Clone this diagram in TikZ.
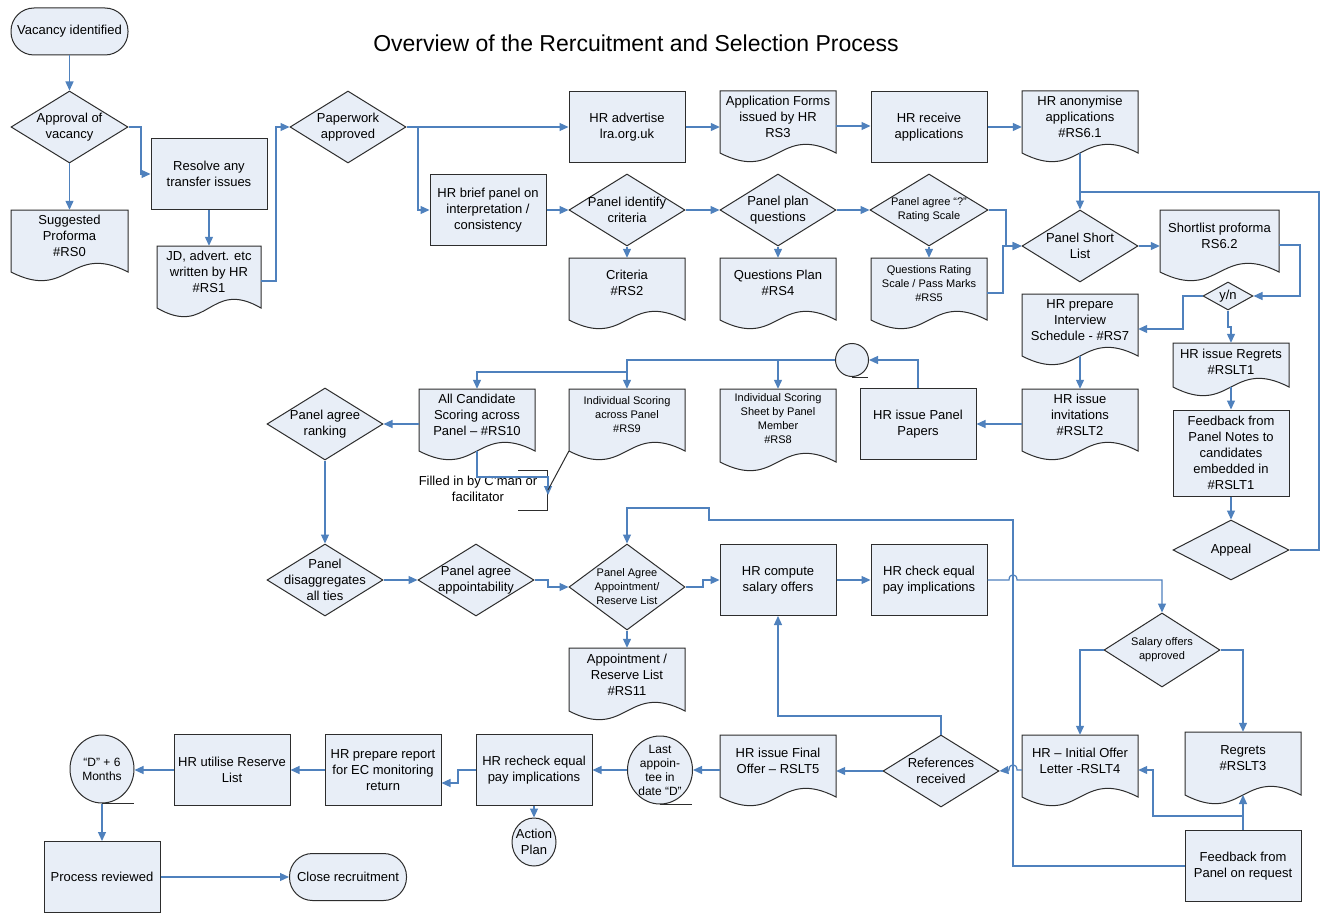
\documentclass[tikz,border=0pt]{standalone}
\usepackage{fontspec}
\setmainfont{Liberation Sans}
\usetikzlibrary{shapes.geometric,arrows.meta}
\definecolor{fillc}{RGB}{232,238,247}
\definecolor{linec}{RGB}{79,129,189}
\definecolor{bordc}{RGB}{45,45,45}
\newcommand\smf{\fontsize{11}{14}\selectfont}
\newcommand\mdf{\fontsize{12}{14}\selectfont}
\newcommand\DocN[8][]{%
  \pgfmathsetmacro\DcXa{#3}%
  \pgfmathsetmacro\DcXb{#3+#5}%
  \pgfmathsetmacro\DcXm{#3+#5/2}%
  \pgfmathsetmacro\DcYa{#4}%
  \pgfmathsetmacro\DcYb{#4+#6}%
  \pgfmathsetmacro\DcYu{#4+#6-30}%
  \pgfmathsetmacro\DcYd{#4+#6+30}%
  \pgfmathsetmacro\DcYc{#4+#6/2+4}%
  \pgfmathsetmacro\DcH{#6+8}%
  \filldraw[shp] (\DcXa,\DcYa) -- (\DcXb,\DcYa) -- (\DcXb,\DcYb) .. controls (\DcXm,\DcYu) and (\DcXm,\DcYd) .. (\DcXa,\DcYb) -- cycle;
  \node[inner sep=0pt, minimum width=#5, minimum height=\DcH] (#2) at (\DcXm,\DcYc) {};
  \coordinate (#2-b) at (\DcXm,\DcYb);
  \node[txt,#1] (#2-t) at (\DcXm,#7) {#8};
}
\newcommand\DiaN[7][]{%
  \node[dia, minimum width=#5, minimum height=#6] (#2) at (#3,#4) {};
  \node[txt,#1] (#2-t) at (#3,#4) {#7};
}
\begin{document}
\begin{tikzpicture}[x=1pt,y=-1pt,
  shp/.style={draw=bordc, fill=fillc, line width=1pt},
  box/.style={shp, rectangle, minimum width=116pt, minimum height=71pt, inner sep=2pt, align=center, font=\fontsize{13}{16}\selectfont},
  dia/.style={shp, diamond, inner sep=0pt},
  ell/.style={shp, ellipse, inner sep=0pt},
  term/.style={shp, rectangle, rounded corners=23pt, minimum width=117pt, minimum height=47pt, align=center, font=\fontsize{13}{16}\selectfont},
  txt/.style={align=center, inner sep=0pt, font=\fontsize{13}{16}\selectfont},
  ln/.style={draw=linec, line width=1.2pt},
  arr/.style={ln, -{Triangle[length=9pt,width=8pt]}},
  tail/.style={draw=bordc, line width=1pt}]
\useasboundingbox (0,0) rectangle (1328,915);
\fill[white] (0,0) rectangle (1328,915);

\node[font=\fontsize{23}{27}\selectfont] (title) at (636,43) {Overview of the Rercuitment and Selection Process};

% ---------- nodes ----------
\node[term] (vac) at (69.5,31.5) {Vacancy identified};
\DiaN{appr}{69.5}{127}{117}{72}{Approval of\\vacancy}
\DocN{rs0}{11}{210}{117}{62}{236}{Suggested\\Proforma\\\#RS0}
\node[box] (resolve) at (209,174) {Resolve any\\transfer issues};
\DocN{rs1}{157}{246}{104}{62}{272}{JD, advert. etc\\written by HR\\\#RS1}
\DiaN{paper}{348}{127}{116}{72}{Paperwork\\approved}
\node[box] (adv) at (627,127) {HR advertise\\lra.org.uk};
\DocN{rs3}{720}{91}{116}{62}{117}{Application Forms\\issued by HR\\RS3}
\node[box] (recv) at (929,127) {HR receive\\applications};
\DocN{rs61}{1022}{91}{116}{62}{117}{HR anonymise\\applications\\\#RS6.1}
\node[box] (brief) at (488,210) {HR brief panel on\\interpretation /\\consistency};
\DiaN{ident}{627}{210}{116}{72}{Panel identify\\criteria}
\DiaN{plan}{778}{210}{116}{72}{Panel plan\\questions}
\DiaN[font=\smf]{agree}{929}{210}{118}{72}{Panel agree “?”\\Rating Scale}
\DocN{rs2}{569}{258}{116}{62}{283}{Criteria\\\#RS2}
\DocN{rs4}{720}{258}{116}{62}{283}{Questions Plan\\\#RS4}
\DocN[font=\smf]{rs5}{871}{258}{116}{62}{284}{Questions Rating\\Scale / Pass Marks\\\#RS5}
\DiaN{sl}{1080}{246}{116}{72}{Panel Short\\List}
\DocN{rs62}{1160}{210}{119}{62}{236}{Shortlist proforma\\RS6.2}
\DiaN{yn}{1228}{296}{50}{28}{y/n}
\DocN{rs7}{1022}{294}{116}{62}{320}{HR prepare\\Interview\\Schedule - \#RS7}
\DocN{rslt1}{1173}{343}{116}{44}{362}{HR issue Regrets\\\#RSLT1}
\DocN{rslt2}{1022}{389}{116}{62}{415}{HR issue\\invitations\\\#RSLT2}
\node[box, minimum height=86pt] (fb1) at (1231,453) {Feedback from\\Panel Notes to\\candidates\\embedded in\\\#RSLT1};
\DiaN{appeal}{1231}{550}{116}{60}{Appeal}
\node[ell, minimum width=33pt, minimum height=33pt] (circ) at (852,360) {};
\node[box] (papers) at (918,424) {HR issue Panel\\Papers};
\DocN[font=\smf]{rs8}{720}{389}{116}{73}{419}{Individual Scoring\\Sheet by Panel\\Member\\\#RS8}
\DocN[font=\smf]{rs9}{569}{389}{116}{62}{415}{Individual Scoring\\across Panel\\\#RS9}
\DocN{rs10}{419}{389}{116}{62}{415}{All Candidate\\Scoring across\\Panel – \#RS10}
\DiaN{rank}{325}{424}{116}{72}{Panel agree\\ranking}
\DiaN{disag}{325}{580}{116}{72}{Panel\\disaggregates\\all ties}
\DiaN{appt}{476}{580}{116}{72}{Panel agree\\appointability}
\DiaN[font=\smf]{pa}{627}{587}{116}{86}{Panel Agree\\Appointment/\\Reserve List}
\DocN{rs11}{569}{648}{116}{63}{675}{Appointment /\\Reserve List\\\#RS11}
\node[box] (comp) at (778,580) {HR compute\\salary offers};
\node[box] (check) at (929,580) {HR check equal\\pay implications};
\DiaN[font=\smf]{sal}{1162}{650}{116}{74}{Salary offers\\approved}
\DocN{rslt4}{1022}{735}{116}{62}{761}{HR – Initial Offer\\Letter -RSLT4}
\DocN{rslt3}{1185}{732}{116}{63}{758}{Regrets\\\#RSLT3}
\node[box] (fb2) at (1243,866) {Feedback from\\Panel on request};
\DiaN{ref}{941}{771}{116}{72}{References\\received}
\DocN{fo}{720}{735}{116}{62}{761}{HR issue Final\\Offer – RSLT5}
\node[ell, minimum width=65pt, minimum height=68pt] (last) at (660,770) {};
\node[txt, font=\mdf] (last-t) at (660,770) {Last\\appoin-\\tee in\\date “D”};
\node[box] (recheck) at (534,770) {HR recheck equal\\pay implications};
\node[ell, minimum width=44pt, minimum height=48pt] (ap) at (534,842) {};
\node[txt] (ap-t) at (534,842) {Action\\Plan};
\node[box] (report) at (383,770) {HR prepare report\\for EC monitoring\\return};
\node[box] (util) at (232,770) {HR utilise Reserve\\List};
\node[ell, minimum width=64pt, minimum height=68pt] (d6) at (102,769) {};
\node[txt, font=\mdf] (d6-t) at (102,769) {“D” + 6\\Months};
\node[box] (proc) at (102,877) {Process reviewed};
\node[term] (close) at (348,877) {Close recruitment};
\node[txt] (note) at (478,489) {Filled in by C’man or\\facilitator};

% tails and bracket
\draw[tail] (circ.south) -- ++(16,0);
\draw[tail] (last.south) -- ++(32,0);
\draw[tail] (d6.south) -- ++(32,0);
\draw[tail] (518,470) -- (547,470) -- (547,510) -- (518,510);

% ---------- coordinates ----------
\coordinate (j1) at (418,127);
\coordinate (j2) at (1080,192);
\coordinate (j3) at (778,360);
\coordinate (j4) at (627,372);
\coordinate (j5) at (1243,816);
\coordinate (j6) at (548,495);
\coordinate (j7) at (548,490);

% ---------- connectors ----------
\draw[arr] (vac.south) -- (appr.north);
\draw[arr] (appr.south) -- (rs0.north);
\draw[arr] (appr.east) -- (141,127) |- (resolve.west);
\draw[arr] (resolve.south) -- (rs1.north);
\draw[arr] (rs1.east) -- (276,281) |- (paper.west);
\draw[arr] (paper.east) -- (adv.west);
\draw[arr] (j1) |- (brief.west);
\draw[arr] (adv.east) -- (adv.east -| rs3.west);
\draw[arr] (rs3.east) -- (rs3.east -| recv.west);
\draw[arr] (recv.east) -- (recv.east -| rs61.west);
\draw[arr] (brief.east) -- (ident.west);
\draw[arr] (ident.east) -- (plan.west);
\draw[arr] (plan.east) -- (agree.west);
\draw[arr] (ident.south) -- (rs2.north);
\draw[arr] (plan.south) -- (rs4.north);
\draw[arr] (agree.south) -- (rs5.north);
\draw[arr] (agree.east) -- (1006,210) |- (sl.west);
\draw[arr] (rs5.east) -- (1003,293) |- (sl.west);
\draw[arr] (rs61-b) -- (sl.north);
\draw[ln] (appeal.east) -- (1319,550) -- (1319,192) -- (j2);
\draw[arr] (sl.east) -- (sl.east -| rs62.west);
\draw[arr] (rs62.east) -- (1300,245) |- (yn.east);
\draw[arr] (yn.west) -- (1183,296) |- (rs7.east);
\draw[arr] (yn.south) -- (1228,327) -| (rslt1.north);
\draw[arr] (rs7-b) -- (rslt2.north);
\draw[arr] (rslt1-b) -- (fb1.north);
\draw[arr] (fb1.south) -- (appeal.north);
\draw[arr] (rslt2.west) -- (rslt2.west -| papers.east);
\draw[arr] (papers.north) |- (circ.east);
\draw[arr] (circ.west) -| (rs9.north);
\draw[arr] (j3) -- (rs8.north);
\draw[arr] (j4) -| (rs10.north);
\draw[arr] (rs10.west) -- (rs10.west -| rank.east);
\draw[arr] (rank.south) -- (disag.north);
\draw[arr] (disag.east) -- (appt.west);
\draw[arr] (appt.east) -- (548,580) -- (548,587) -- (pa.west);
\draw[arr] (pa.east) -- (703,587) -- (703,580) -- (comp.west);
\draw[arr] (pa.south) -- (rs11.north);
\draw[arr] (comp.east) -- (check.west);
\draw[arr] (check.east) -- (1009,580) .. controls (1009,573) and (1017,573) .. (1017,580) -- (1162,580) -- (sal.north);
\draw[arr] (sal.west) -| (rslt4.north);
\draw[arr] (sal.east) -| (rslt3.north);
\draw[arr] (fb2.north) -- (rslt3-b);
\draw[arr] (j5) -- (1153,816) |- (rslt4.east);
\draw[arr] (fb2.west) -- (1013,866) -- (1013,520) -- (709,520) -- (709,508) -| (pa.north);
\draw[arr] (rslt4.west) -- (1017,770) .. controls (1017,763) and (1009,763) .. (1009,770) -- (ref.east);
\draw[arr] (ref.north) -- (941,716) -| (comp.south);
\draw[arr] (ref.west) -- (ref.west -| fo.east);
\draw[arr] (fo.west) -- (fo.west -| last.east);
\draw[arr] (last.west) -- (recheck.east);
\draw[arr] (recheck.south) -- (ap.north);
\draw[arr] (recheck.west) -- (458,770) |- ([yshift=-13pt]report.east);
\draw[arr] (report.west) -- (util.east);
\draw[arr] (util.west) -- (util.west -| d6.east);
\draw[arr] (d6.south) -- (proc.north);
\draw[arr] (proc.east) -- (close.west);
\draw[arr] (rs10-b) -- (477,477) -- (548,477) -- (j6);
\draw[draw=bordc, line width=1pt] ([yshift=8pt]rs9.south west) -- (j7);
\end{tikzpicture}
\end{document}
